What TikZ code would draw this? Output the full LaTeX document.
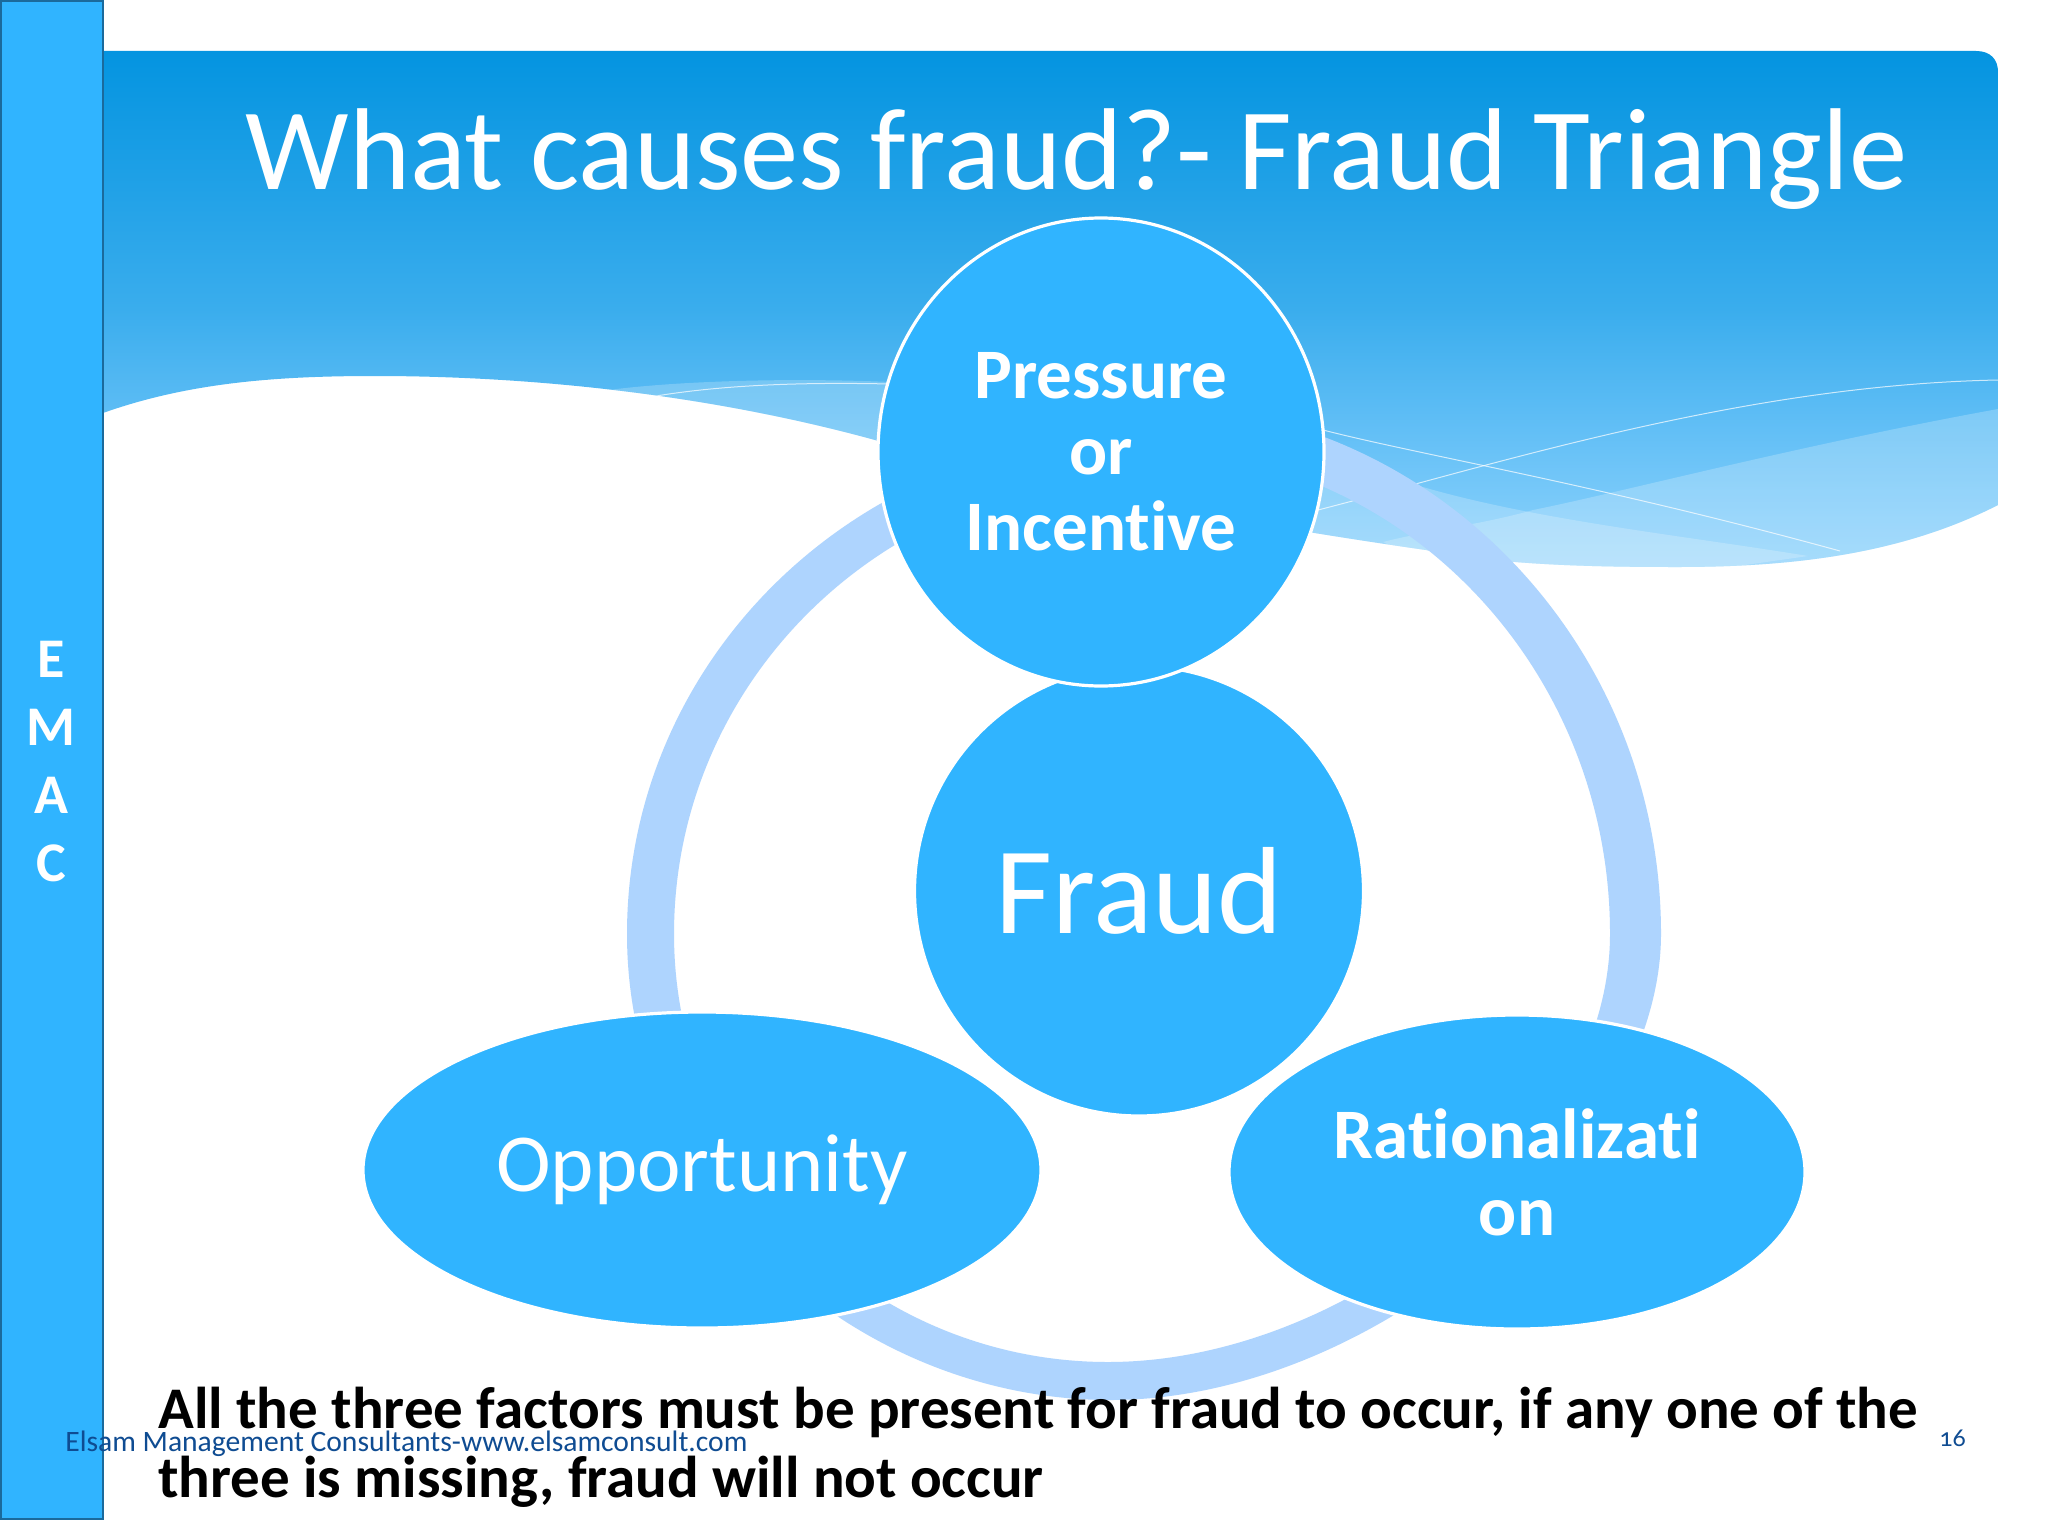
\documentclass[tikz,border=0pt]{standalone}
\usepackage{fontspec}
\usepackage{xcolor}
\usepackage{tikz}
\usetikzlibrary{shapes.geometric}
\setmainfont[Ligatures=NoCommon]{Carlito}
\definecolor{skyFill}{HTML}{30B4FF}
\definecolor{barEdge}{HTML}{1B6A9C}
\definecolor{ringBlue}{HTML}{AED4FE}
\definecolor{headTop}{HTML}{0494E0}
\definecolor{headMid}{HTML}{3AADED}
\definecolor{headMore}{HTML}{62BFF6}
\definecolor{headLow}{HTML}{8FD3FC}
\definecolor{footBlue}{HTML}{0F4C92}
\pgfdeclareverticalshading{headShade}{100bp}{color(0bp)=(headLow); color(25bp)=(headLow); color(38.3bp)=(headMore); color(50bp)=(headMid); color(75bp)=(headTop); color(100bp)=(headTop)}
\tikzset{
  bubble/.style={shape=ellipse, fill=skyFill, draw=white, line width=1.6pt, text=white, align=center, inner sep=0pt},
  bandFill/.style={fill=white, fill opacity=0.22},
  waveLine/.style={draw=white, draw opacity=0.7, line width=0.5pt},
  barLetter/.style={text=white, font=\fontsize{28}{28}\selectfont\bfseries},
  footText/.style={text=footBlue, font=\fontsize{14.8}{16}\selectfont, anchor=base west}
}
\def\headerPath{(103,51) -- (1976,51) .. controls (1990,51) and (1998,59) .. (1998,72) -- (1998,505)
  .. controls (1900,555) and (1790,567) .. (1677,567) .. controls (1590,567) and (1500,565) .. (1426,550)
  .. controls (1300,532) and (1040,490) .. (875,440) .. controls (700,392) and (520,376) .. (375,376)
  .. controls (280,376) and (190,382) .. (103,413) -- cycle}

\begin{document}
\begin{tikzpicture}[x=0.5pt,y=-0.5pt]
  \useasboundingbox (0,0) rectangle (2048,1536);
  \fill[white] (0,0) rectangle (2048,1536);

  \shade[shading=headShade] \headerPath;
  \begin{scope}
    \clip \headerPath;
    \fill[bandFill] (601,391) .. controls (680,380) and (800,378) .. (890,382) -- (890,450) -- cycle;
    \draw[waveLine] (650,397) .. controls (720,385) and (800,382) .. (890,384);
    \fill[bandFill] (1998,409) .. controls (1800,445) and (1618,493) .. (1533,510) .. controls (1480,525) and (1430,530) .. (1383,542) -- (1500,600) -- (1998,600) -- cycle;
    \fill[bandFill] (1300,450) .. controls (1350,465) and (1400,480) .. (1416,485) .. controls (1533,520) and (1680,535) .. (1808,556) -- (1500,600) -- (1300,560) -- cycle;
    \draw[waveLine] (1323,430) .. controls (1420,455) and (1600,485) .. (1840,551);
    \draw[waveLine] (1318,510) .. controls (1497,464) and (1742,385) .. (1998,380);
  \end{scope}

  \fill[ringBlue, even odd rule]
    (627,934) .. controls (627,658) and (858,434) .. (1144,434) -- (1144,404)
      .. controls (1430,404) and (1661,641) .. (1661,934)
      .. controls (1661,1150) and (1380,1400) .. (1110,1400)
      .. controls (860,1400) and (627,1200) .. (627,934) -- cycle
    (674,934) .. controls (674,681) and (883.5,476) .. (1142,476) -- (1142,449)
      .. controls (1400.5,449) and (1610,666) .. (1610,934)
      .. controls (1610,1150) and (1350,1362) .. (1108,1362)
      .. controls (870,1362) and (674,1170) .. (674,934) -- cycle;

  \node[bubble, minimum width=224.5pt, minimum height=225pt, font=\fontsize{62}{62}\selectfont] (fraud) at (1139,891) {Fraud};
  \node[bubble, minimum width=223pt, minimum height=234pt, font=\fontsize{35.5}{38}\selectfont\bfseries] (pressure) at (1101,452) {Pressure\\or\\Incentive};
  \node[bubble, minimum width=339pt, minimum height=158pt, font=\fontsize{41.2}{41}\selectfont] (opportunity) at (702,1170) {Opportunity};
  \node[bubble, minimum width=288pt, minimum height=157pt, font=\fontsize{35.5}{38.5}\selectfont\bfseries] (rationalization) at (1517,1172) {Rationalizati\\on};

  \fill[skyFill, draw=barEdge, line width=1pt] (1,1) rectangle (103,1519);
  \node[barLetter] (barE) at (51,659) {E};
  \node[barLetter] (barM) at (51,727) {M};
  \node[barLetter] (barA) at (51,795) {A};
  \node[barLetter] (barC) at (51,863) {C};

  \node[text=white, font=\fontsize{58.2}{58}\selectfont, anchor=base west, inner sep=0pt] (title) at (245,189) {What causes fraud?- Fraud Triangle};

  \node[text=black, font=\fontsize{29.5}{34}\selectfont\bfseries, anchor=base west, inner sep=0pt] (lineOne) at (158,1428) {All the three factors must be present for fraud to occur, if any one of the};
  \node[text=black, font=\fontsize{29.5}{34}\selectfont\bfseries, anchor=base west, inner sep=0pt] (lineTwo) at (158,1497) {three is missing, fraud will not occur};

  \node[footText, inner sep=0pt] (footer) at (65,1451) {Elsam Management Consultants-www.elsamconsult.com};
  \node[footText, inner sep=0pt, font=\fontsize{13}{14}\selectfont\addfontfeatures{Numbers=OldStyle}] (pageNo) at (1939,1446) {16};
\end{tikzpicture}
\end{document}
